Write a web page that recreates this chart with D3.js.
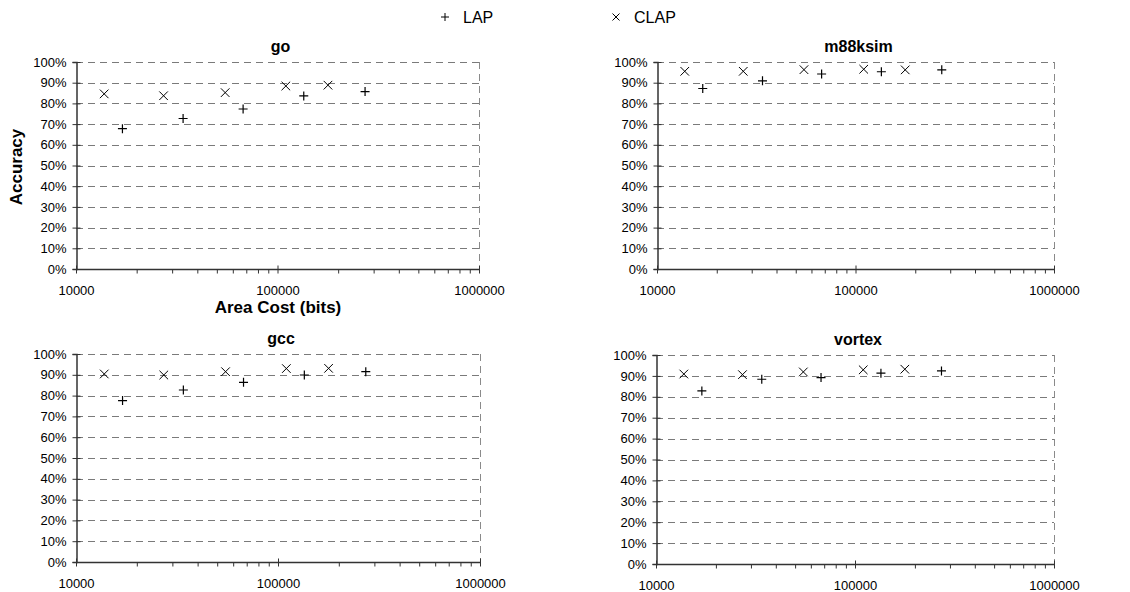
<!DOCTYPE html>
<html>
<head>
<meta charset="utf-8">
<script src="https://cdn.jsdelivr.net/npm/d3@7"></script>
<style>
  body { margin: 0; background: #fff; }
  svg { font-family: "Liberation Sans", Arial, sans-serif; }
</style>
</head>
<body>
<svg id="chart" width="1130" height="592"></svg>
<script>
// DATA ----------------------------------------------------------------------

var benchmarks = ["go", "m88ksim", "gcc", "vortex"];
var seriesNames = ["LAP", "CLAP"];

// area cost in bits (same for every benchmark)
var lapCost  = [17000, 34000, 67500, 135000, 272000];
var clapCost = [13800, 27200, 55000, 110000, 178000];

// accuracy, fraction
var lapAcc = {
    go:      [0.678, 0.727, 0.773, 0.836, 0.857],
    m88ksim: [0.872, 0.909, 0.942, 0.953, 0.962],
    gcc:     [0.776, 0.827, 0.864, 0.899, 0.915],
    vortex:  [0.828, 0.884, 0.892, 0.913, 0.924]
};
var clapAcc = {
    go:      [0.846, 0.837, 0.852, 0.884, 0.888],
    m88ksim: [0.955, 0.955, 0.963, 0.965, 0.962],
    gcc:     [0.904, 0.899, 0.915, 0.930, 0.931],
    vortex:  [0.909, 0.906, 0.919, 0.929, 0.932]
};

var yTicks = d3.range(0, 1.0001, 0.1);
var xMajor = [10000, 100000, 1000000];

// LAYOUT --------------------------------------------------------------------

var panels = [
    { name: benchmarks[0], x0: 76,  x1: 479,  y0: 62,  y1: 269 },
    { name: benchmarks[1], x0: 657, x1: 1054, y0: 62,  y1: 269 },
    { name: benchmarks[2], x0: 76,  x1: 480,  y0: 354, y1: 562 },
    { name: benchmarks[3], x0: 656, x1: 1054, y0: 355, y1: 564 }
];

var svg = d3.select("#chart");

function plusPath(s) {
    return "M" + (-s) + ",0H" + s + "M0," + (-s) + "V" + s;
}
function crossPath(s) {
    return "M" + (-s) + "," + (-s) + "L" + s + "," + s + "M" + (-s) + "," + s + "L" + s + "," + (-s);
}

// PANELS --------------------------------------------------------------------

panels.forEach(function(p) {
    var x = d3.scaleLog().domain([10000, 1000000]).range([p.x0, p.x1]);
    var y = d3.scaleLinear().domain([0, 1]).range([p.y1, p.y0]);
    var g = svg.append("g");

    // dashed grid
    g.selectAll(".grid").data(yTicks.slice(1)).enter()
        .append("line")
        .attr("x1", p.x0).attr("x2", p.x1)
        .attr("y1", function(d) { return Math.round(y(d)) + 0.5; })
        .attr("y2", function(d) { return Math.round(y(d)) + 0.5; })
        .attr("stroke", "#7a7a7a")
        .attr("stroke-width", 1.2)
        .attr("stroke-dasharray", "7,5");
    g.append("line")
        .attr("x1", p.x1 + 0.5).attr("x2", p.x1 + 0.5)
        .attr("y1", p.y0).attr("y2", p.y1)
        .attr("stroke", "#8a8a8a")
        .attr("stroke-dasharray", "7,5");

    // y axis
    var yAxis = d3.axisLeft(y).tickValues(yTicks)
        .tickFormat(d3.format(".0%")).tickSize(4);
    var ya = g.append("g")
        .attr("transform", "translate(" + (p.x0 + 0.5) + ",0)")
        .call(yAxis);
    ya.select(".domain").attr("stroke", "#333").attr("stroke-width", 1.5);
    ya.selectAll(".tick line").attr("x1", 4).attr("x2", -4).attr("stroke", "#333");
    ya.selectAll("text").attr("font-size", 13).attr("fill", "#000")
        .attr("x", -10);

    // x axis, log ticks
    var xAxis = d3.axisBottom(x).tickValues(x.ticks())
        .tickFormat(function(d) { return xMajor.indexOf(d) >= 0 ? d : ""; })
        .tickSize(4).tickPadding(12);
    var xa = g.append("g")
        .attr("transform", "translate(0," + (p.y1 + 0.5) + ")")
        .call(xAxis);
    xa.select(".domain").attr("stroke", "#333").attr("stroke-width", 1.5)
        .attr("d", "M" + p.x0 + ",0H" + p.x1);
    xa.selectAll(".tick line").attr("stroke", "#333")
        .attr("y1", function(d) { return xMajor.indexOf(d) >= 0 ? -4 : 0; })
        .attr("y2", 4);
    xa.selectAll("text").attr("font-size", 13).attr("fill", "#000");

    // title
    g.append("text")
        .attr("x", (p.x0 + p.x1) / 2 + 3)
        .attr("y", p.y0 - 10)
        .attr("text-anchor", "middle")
        .attr("font-size", 16).attr("font-weight", "bold")
        .text(p.name);

    // markers
    g.selectAll(".clap").data(clapAcc[p.name]).enter()
        .append("path")
        .attr("d", crossPath(4.3))
        .attr("transform", function(d, i) { return "translate(" + x(clapCost[i]) + "," + y(d) + ")"; })
        .attr("stroke", "#000").attr("stroke-width", 1).attr("fill", "none");
    g.selectAll(".lap").data(lapAcc[p.name]).enter()
        .append("path")
        .attr("d", plusPath(4.5))
        .attr("transform", function(d, i) { return "translate(" + x(lapCost[i]) + "," + y(d) + ")"; })
        .attr("stroke", "#000").attr("stroke-width", 1.2).attr("fill", "none");
});

// AXIS TITLES AND LEGEND ----------------------------------------------------

svg.append("text")
    .attr("transform", "translate(22,167) rotate(-90)")
    .attr("text-anchor", "middle")
    .attr("font-size", 17).attr("font-weight", "bold")
    .text("Accuracy");

svg.append("text")
    .attr("x", 278).attr("y", 313)
    .attr("text-anchor", "middle")
    .attr("font-size", 17).attr("font-weight", "bold")
    .text("Area Cost (bits)");

var legend = [
    { name: seriesNames[0], mx: 445, tx: 463, path: plusPath(4) },
    { name: seriesNames[1], mx: 616, tx: 634, path: crossPath(3.5) }
];
legend.forEach(function(l) {
    svg.append("path")
        .attr("d", l.path)
        .attr("transform", "translate(" + l.mx + ",17)")
        .attr("stroke", "#000").attr("fill", "none");
    svg.append("text")
        .attr("x", l.tx).attr("y", 23)
        .attr("font-size", 16)
        .text(l.name);
});
</script>
</body>
</html>
